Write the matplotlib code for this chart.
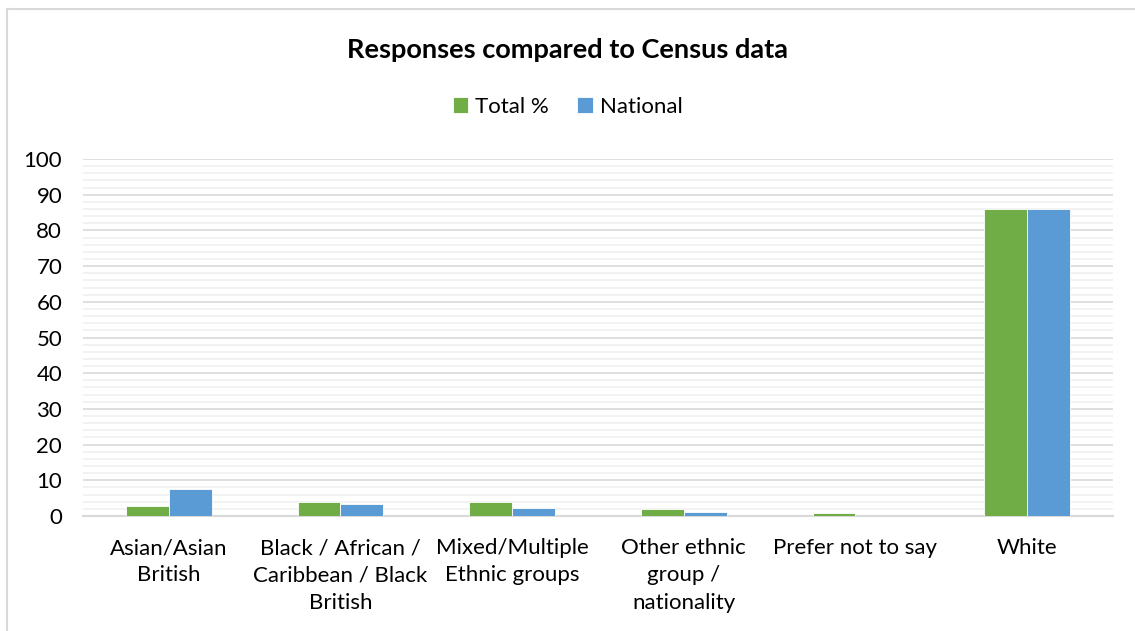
import matplotlib.pyplot as plt
import numpy as np
from matplotlib.lines import Line2D
from matplotlib.ticker import MultipleLocator

plt.rcParams['font.family'] = ['Lato', 'DejaVu Sans']

categories = [
    "Asian/Asian\nBritish",
    "Black / African /\nCaribbean / Black\nBritish",
    "Mixed/Multiple\nEthnic groups",
    "Other ethnic\ngroup /\nnationality",
    "Prefer not to say",
    "White",
]
total_pct = [2.8, 3.8, 3.8, 1.9, 0.8, 86.0]
national = [7.5, 3.3, 2.2, 1.0, 0.0, 86.0]

green = "#70ad47"
blue = "#5b9bd5"

W, H = 1135, 631
fig = plt.figure(figsize=(W / 100, H / 100), dpi=100)
ax = fig.add_axes([83 / W, 1 - 516 / H, (1113 - 83) / W, (516 - 159) / H])

x = np.arange(len(categories))
bw = 0.25
ax.bar(x - bw / 2, total_pct, bw, color=green, label="Total %", zorder=3,
       edgecolor="white", linewidth=0.6)
ax.bar(x + bw / 2, national, bw, color=blue, label="National", zorder=3,
       edgecolor="white", linewidth=0.6)

ax.set_xlim(-0.5, len(categories) - 0.5)
ax.set_ylim(0, 100)
ax.yaxis.set_major_locator(MultipleLocator(10))
ax.yaxis.set_minor_locator(MultipleLocator(2))
ax.grid(which="major", axis="y", color="#d9d9d9", linewidth=1.2, zorder=0)
ax.grid(which="minor", axis="y", color="#f0f0f0", linewidth=1.2, zorder=0)
ax.tick_params(axis="both", which="both", length=0, labelsize=16, colors="#000000")
ax.tick_params(axis="y", pad=15)
ax.tick_params(axis="x", pad=16)
ax.set_xticks(x)
ax.set_xticklabels(categories, fontsize=16, linespacing=1.45)
for s in ["top", "right", "left"]:
    ax.spines[s].set_visible(False)
ax.spines["bottom"].set_color("#d9d9d9")
ax.spines["bottom"].set_linewidth(1.5)

fig.text(0.5, 1 - 50 / H, "Responses compared to Census data", ha="center",
         va="center", fontsize=19.5, fontweight="bold")

fig.legend(loc="center", bbox_to_anchor=(0.5, 1 - 107 / H), ncol=2, frameon=False,
           fontsize=16, handlelength=0.7, handleheight=0.7, handletextpad=0.3,
           columnspacing=1.3)

# outer frame of the chart area
fig.add_artist(Line2D([7 / W, 1], [1 - 9 / H, 1 - 9 / H], transform=fig.transFigure,
                      color="#d9d9d9", linewidth=1.5))
fig.add_artist(Line2D([7 / W, 7 / W], [0, 1 - 9 / H], transform=fig.transFigure,
                      color="#d9d9d9", linewidth=1.5))

fig.savefig("out.png", dpi=100)
